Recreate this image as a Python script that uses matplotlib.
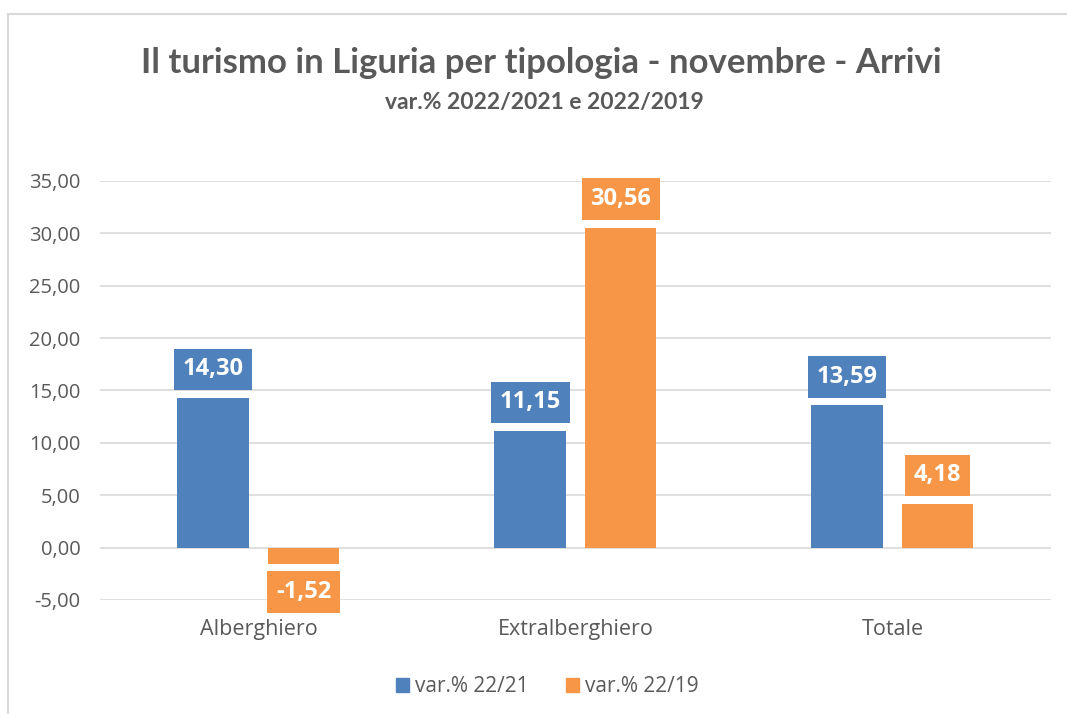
import matplotlib.pyplot as plt
import numpy as np
from matplotlib.lines import Line2D
from matplotlib.patches import Patch

categorie = ['Alberghiero', 'Extralberghiero', 'Totale']
var_22_21 = [14.30, 11.15, 13.59]
var_22_19 = [-1.52, 30.56, 4.18]
serie = ['var.% 22/21', 'var.% 22/19']
blu = '#4F81BD'
arancio = '#F79646'
grigio = '#595959'

plt.rcParams['font.family'] = ['Open Sans', 'DejaVu Sans']

fig = plt.figure(figsize=(10.67, 7.14), dpi=100)
ax = fig.add_axes([0.0937, 0.1597, 0.8913, 0.5868])

x = np.arange(len(categorie))
w = 0.225
off = 0.143
b1 = ax.bar(x - off, var_22_21, w, color=blu, zorder=3)
b2 = ax.bar(x + off, var_22_19, w, color=arancio, zorder=3)

def etichette(bars, vals, col):
    for b, v in zip(bars, vals):
        xc = b.get_x() + b.get_width() / 2
        dy = 20.5 if v >= 0 else -20.5
        ax.annotate(f'{v:.2f}'.replace('.', ','), (xc, v), xytext=(0, dy),
                    textcoords='offset points', ha='center', va='center',
                    fontsize=17, fontweight='bold', color='white', zorder=5,
                    bbox=dict(boxstyle='square,pad=0.37', fc=col, ec='none'))

etichette(b1, var_22_21, blu)
etichette(b2, var_22_19, arancio)

ax.set_ylim(-5, 35)
ax.set_xlim(-0.5, 2.5)
ax.set_yticks(np.arange(-5, 36, 5))
ax.set_yticklabels([f'{t:.2f}'.replace('.', ',') for t in np.arange(-5, 36, 5)])
ax.set_xticks(x)
ax.set_xticklabels(categorie)
ax.tick_params(axis='both', length=0, colors=grigio)
ax.tick_params(axis='y', pad=14, labelsize=14.5)
ax.tick_params(axis='x', pad=14, labelsize=15.5)
ax.grid(axis='y', color='#D9D9D9', lw=1.2, zorder=0)
for s in ax.spines.values():
    s.set_visible(False)

fig.text(0.507, 0.912, 'Il turismo in Liguria per tipologia - novembre - Arrivi',
         ha='center', va='center', fontsize=25, fontweight='bold', color=grigio,
         family='Lato')
fig.text(0.51, 0.857, 'var.% 2022/2021 e 2022/2019',
         ha='center', va='center', fontsize=16.5, fontweight='bold', color=grigio,
         family='Lato')

handles = [Patch(color=blu), Patch(color=arancio)]
fig.legend(handles, serie, loc='center', bbox_to_anchor=(0.513, 0.038), ncol=2,
           frameon=False, fontsize=15, labelcolor=grigio, handlelength=0.6,
           handleheight=0.6, handletextpad=0.3, columnspacing=1.8)

# cornice del grafico
fig.add_artist(Line2D([8 / 1067, 1.0], [1 - 14 / 714] * 2, color='#D9D9D9', lw=1.5))
fig.add_artist(Line2D([8 / 1067] * 2, [0.0, 1 - 14 / 714], color='#D9D9D9', lw=1.5))

fig.savefig('out.png', dpi=100)
